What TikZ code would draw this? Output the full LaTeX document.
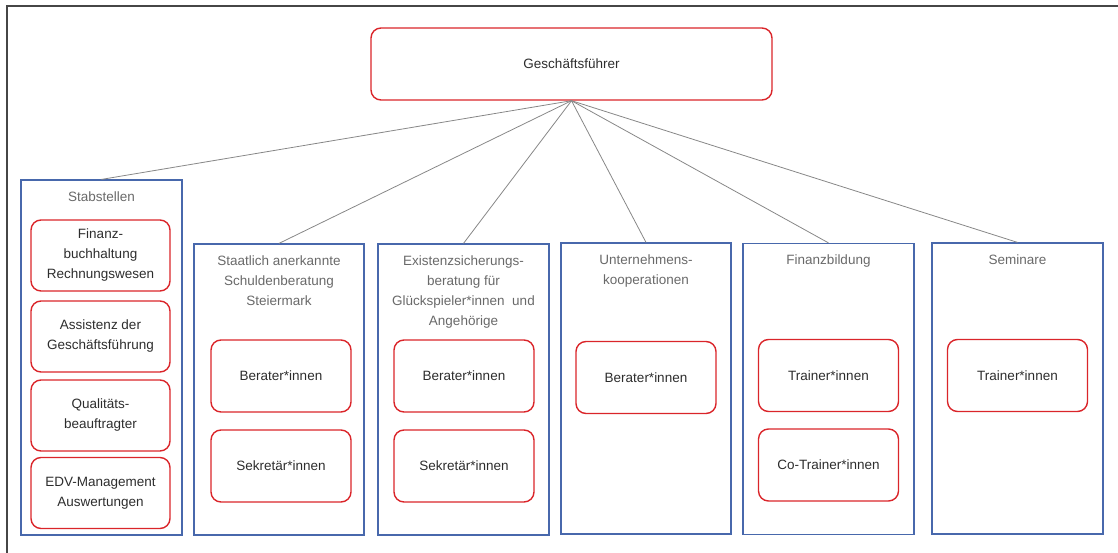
\documentclass[tikz,border=0pt]{standalone}
\usepackage{fontspec}
\setmainfont{Liberation Sans}

\definecolor{boxred}{RGB}{218,37,42}
\definecolor{unitblue}{RGB}{72,104,172}
\definecolor{titlegrey}{RGB}{105,105,105}
\definecolor{textgrey}{RGB}{45,45,45}
\definecolor{linegrey}{RGB}{135,135,135}
\definecolor{framegrey}{RGB}{70,70,70}

\tikzset{
    post/.style={draw=boxred, line width=1.4pt, rounded corners=10pt,
        minimum width=140pt, minimum height=72pt, align=center,
        text=textgrey, inner sep=2pt},
    unit/.style={draw=unitblue, line width=1.2pt, minimum width=170pt,
        minimum height=291pt, inner sep=0pt},
    unittitle/.style={anchor=north, align=center, text=titlegrey,
        inner sep=0pt, yshift=-12pt},
}

\begin{document}
\begin{tikzpicture}[x=1pt, y=-1pt, font=\fontsize{13.5}{20}\selectfont]
\useasboundingbox (0,0) rectangle (1118,553);
\draw[framegrey, line width=1.3pt] (7,553) -- (7,6) -- (1118,6);

\begin{scope}

    \node[post, minimum width=401pt] (GF) at (571.5,64) {Geschäftsführer};

    % Stabstellen
    \node[unit, minimum width=161pt, minimum height=355pt] (S) at (101.5,357.5) {};
    \node[unittitle] (St) at (S.north) {Stabstellen};
    \node[post, minimum width=139pt, minimum height=71pt] (S1) at (100.5,255.5)
        {Finanz-\\buchhaltung\\Rechnungswesen};
    \node[post, minimum width=139pt, minimum height=71pt] (S2) at (100.5,336.5)
        {Assistenz der\\Geschäftsführung};
    \node[post, minimum width=139pt, minimum height=71pt] (S3) at (100.5,415.5)
        {Qualitäts-\\beauftragter};
    \node[post, minimum width=139pt, minimum height=71pt] (S4) at (100.5,493)
        {EDV-Management\\Auswertungen};

    % Schuldenberatung
    \node[unit] (A) at (279,389.5) {};
    \node[unittitle] (At) at (A.north)
        {Staatlich anerkannte\\Schuldenberatung\\Steiermark};
    \node[post] (A1) at (281,376) {Berater*innen};
    \node[post] (A2) at (281,466) {Sekretär*innen};

    % Existenzsicherung
    \node[unit, minimum width=171pt] (B) at (463.5,389.5) {};
    \node[unittitle] (Bt) at (B.north)
        {Existenzsicherungs-\\beratung für\\Glückspieler*innen~ und\\Angehörige};
    \node[post] (B1) at (464,376) {Berater*innen};
    \node[post] (B2) at (464,466) {Sekretär*innen};

    % Unternehmen
    \node[unit] (C) at (646,388.5) {};
    \node[unittitle] (Ct) at (C.north) {Unternehmens-\\kooperationen};
    \node[post] (C1) at (646,377.5) {Berater*innen};

    % Finanzbildung
    \node[unit, minimum width=171pt] (D) at (828.5,389) {};
    \node[unittitle] (Dt) at (D.north) {Finanzbildung};
    \node[post] (D1) at (828.5,375.5) {Trainer*innen};
    \node[post] (D2) at (828.5,465) {Co-Trainer*innen};

    % Seminare
    \node[unit, minimum width=171pt] (E) at (1017.5,388.5) {};
    \node[unittitle] (Et) at (E.north) {Seminare};
    \node[post] (E1) at (1017.5,375.5) {Trainer*innen};

\end{scope}

\begin{scope} [every edge/.style={draw=linegrey, line width=0.8pt}]

    \path (GF.south) edge (S.north);
    \path (GF.south) edge (A.north);
    \path (GF.south) edge (B.north);
    \path (GF.south) edge (C.north);
    \path (GF.south) edge (D.north);
    \path (GF.south) edge (E.north);

\end{scope}

\end{tikzpicture}
\end{document}
